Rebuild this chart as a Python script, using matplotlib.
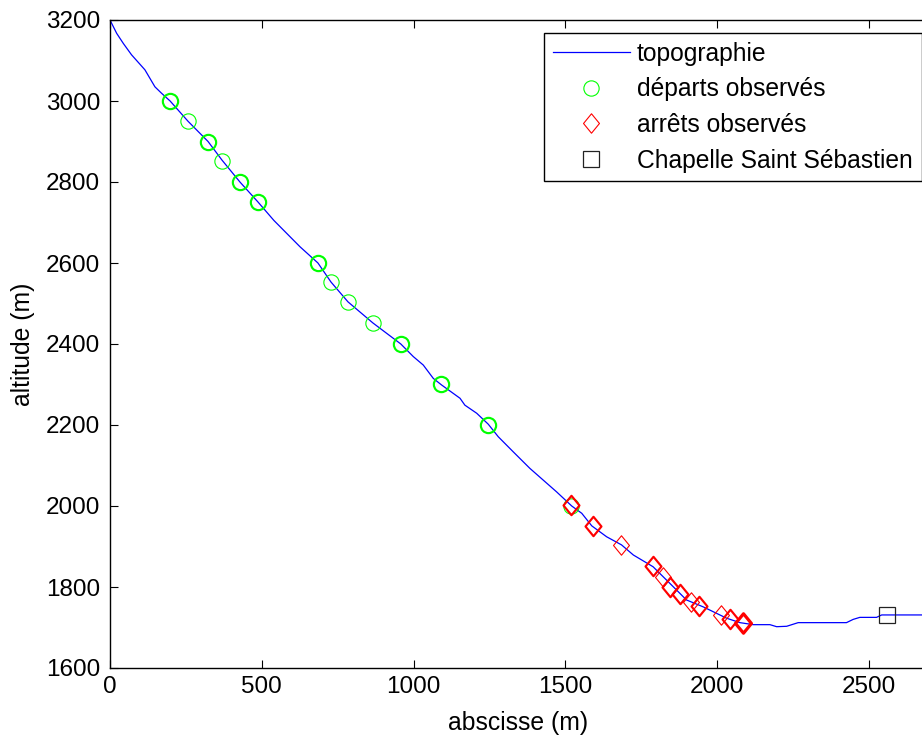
"""Profil en long : topographie, departs et arrets observes."""
from collections import Counter

import matplotlib

matplotlib.use("Agg")
import matplotlib.pyplot as plt  # noqa: E402
from matplotlib.path import Path  # noqa: E402

# topographie (abscisse m, altitude m)
topo_x = [0, 22, 44, 71, 115, 148, 170, 198, 257, 323, 369, 428, 487, 540,
          626, 685, 728, 784, 866, 958, 999, 1032, 1065, 1092, 1153, 1169,
          1208, 1246, 1279, 1328, 1383, 1427, 1471, 1521, 1554, 1587, 1636,
          1685, 1724, 1789, 1855, 1899, 1954, 1998, 2031, 2075, 2119, 2174,
          2196, 2229, 2267, 2426, 2448, 2470, 2525, 2542, 2690]
topo_y = [3200, 3167, 3142, 3114, 3077, 3035, 3019, 3000, 2950, 2900, 2854,
          2800, 2751, 2705, 2640, 2600, 2553, 2504, 2452, 2400, 2369, 2348,
          2315, 2299, 2266, 2249, 2229, 2202, 2171, 2134, 2093, 2064, 2035,
          2000, 1982, 1951, 1924, 1904, 1879, 1850, 1801, 1768, 1751, 1735,
          1723, 1712, 1707, 1707, 1702, 1703, 1712, 1712, 1720, 1725, 1725,
          1731, 1731]

# departs observes (repetitions = observations multiples)
dep_x = [198, 198, 257, 323, 323, 369, 428, 428, 487, 487, 685, 685, 728,
         784, 866, 958, 958, 1090, 1090, 1245, 1245, 1518]
dep_y = [3000, 3000, 2950, 2900, 2900, 2852, 2800, 2800, 2750, 2750, 2600,
         2600, 2553, 2503, 2452, 2400, 2400, 2300, 2300, 2200, 2200, 2000]

# arrets observes
arr_x = [1518, 1518, 1590, 1590, 1683, 1789, 1789, 1820, 1844, 1844, 1877,
         1877, 1914, 1940, 1940, 2013, 2042, 2042, 2085, 2085, 2085]
arr_y = [2002, 2002, 1951, 1951, 1904, 1853, 1853, 1825, 1801, 1801, 1783,
         1783, 1763, 1754, 1754, 1731, 1722, 1722, 1711, 1711, 1711]

# Chapelle Saint Sebastien
chap_x = [2559]
chap_y = [1731]

plt.rcParams["font.family"] = ["Liberation Sans", "DejaVu Sans"]

fig = plt.figure(figsize=(9.22, 7.38), dpi=100)
# right spine sits just past the figure edge (cropped like the original)
ax = fig.add_axes([110 / 922, 70 / 738, 816 / 922, 648 / 738])

ax.plot(topo_x, topo_y, color="#0000ff", lw=0.9, label="topographie")

tall_diamond = Path([(0, 1), (0.82, 0), (0, -1), (-0.82, 0), (0, 1)],
                    [Path.MOVETO, Path.LINETO, Path.LINETO, Path.LINETO,
                     Path.CLOSEPOLY])


def plot_grouped(xs, ys, marker, color, ms, label):
    counts = Counter(zip(xs, ys))
    first = True
    for n in sorted(set(counts.values())):
        pts = [p for p, c in counts.items() if c == n]
        ax.plot([p[0] for p in pts], [p[1] for p in pts], ls="none",
                marker=marker, ms=ms, mfc="none", mec=color,
                mew=0.8 + 0.75 * (n - 1), label=label if first else None)
        first = False


plot_grouped(dep_x, dep_y, "o", "#00ff00", 11, "départs observés")
plot_grouped(arr_x, arr_y, tall_diamond, "#ff0000", 14, "arrêts observés")
ax.plot(chap_x, chap_y, ls="none", marker="s", ms=11, mfc="none", mec="#222222",
        mew=0.9, label="Chapelle Saint Sébastien")

ax.set_xlim(0, 2688)
ax.set_ylim(1600, 3200)
ax.set_xticks(range(0, 2501, 500))
ax.set_yticks(range(1600, 3201, 200))
ax.tick_params(direction="in", length=6, width=0.8, labelsize=17.5,
               top=True, right=False)
ax.tick_params(axis="x", pad=6)
ax.tick_params(axis="y", pad=7)
for s in ax.spines.values():
    s.set_linewidth(1.0)

ax.set_xlabel("abscisse (m)", fontsize=17.8, labelpad=9)
ax.set_ylabel("altitude (m)", fontsize=17.8, labelpad=8)

leg = ax.legend(loc="upper right", bbox_to_anchor=(921.5 / 922, 1 - 33 / 738),
                bbox_transform=fig.transFigure, borderaxespad=0,
                fontsize=17.7, handlelength=3.1, handletextpad=0.3,
                labelspacing=0.47, borderpad=0.36, fancybox=False,
                framealpha=1, edgecolor="black")
leg.get_frame().set_linewidth(1.0)

fig.savefig("out.png", dpi=100)
plt.close(fig)
